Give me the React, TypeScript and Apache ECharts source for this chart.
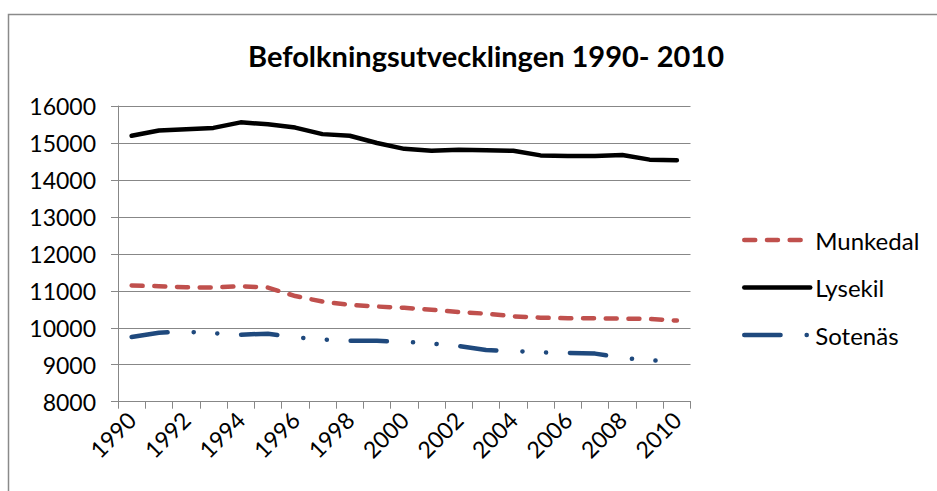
import React, { useEffect, useRef } from "react";
import * as echarts from "echarts";

const years = ["1990","1991","1992","1993","1994","1995","1996","1997","1998","1999","2000","2001","2002","2003","2004","2005","2006","2007","2008","2009","2010"];
const munkedal = [11142,11124,11097,11088,11124,11088,10858,10708,10619,10575,10540,10487,10425,10381,10310,10274,10257,10257,10248,10239,10195];
const lysekil = [15195,15336,15372,15407,15558,15504,15416,15239,15195,15000,14841,14788,14814,14805,14788,14664,14646,14646,14673,14549,14531];
const sotenas = [9752,9867,9894,9850,9814,9841,9743,9681,9646,9646,9620,9575,9504,9398,9372,9336,9318,9301,9186,9119,9090];

const FONT = "Lato";

export default function App() {
  const ref = useRef<HTMLDivElement>(null);
  useEffect(() => {
    if (!ref.current) return;
    const chart = echarts.init(ref.current, undefined, { renderer: "svg" });
    const gridColor = "#878787";
    chart.setOption({
      animation: false,
      backgroundColor: "#ffffff",
      title: {
        text: "Befolkningsutvecklingen 1990- 2010",
        left: 481,
        textAlign: "center",
        top: 36,
        textStyle: { fontFamily: FONT, fontWeight: "bold", fontSize: 29, color: "#000" },
      },
      graphic: [
        {
          type: "rect",
          shape: { x: 8.5, y: 14.5, width: 1000, height: 600 },
          style: { fill: "none", stroke: "#8a8a8a", lineWidth: 1.5 },
          silent: true,
        },
      ],
      legend: {
        orient: "vertical",
        left: 737,
        top: 223,
        itemWidth: 66,
        itemHeight: 14,
        itemGap: 23.5,
        textStyle: { fontFamily: FONT, fontSize: 24, color: "#000", lineHeight: 24, padding: 0 },
        lineStyle: { width: 4.5 },
        itemStyle: { color: "transparent", borderWidth: 0, opacity: 0 },
        data: ["Munkedal", "Lysekil", "Sotenäs"],
      },
      grid: { left: 118, right: 246.5, top: 106, bottom: 89.3, containLabel: false },
      xAxis: {
        type: "category",
        data: years,
        boundaryGap: true,
        axisLine: { lineStyle: { color: gridColor, width: 1 } },
        axisTick: { show: true, length: 7, lineStyle: { color: gridColor }, alignWithLabel: false, interval: 0 },
        axisLabel: { interval: 1, rotate: 45, margin: 14, fontFamily: FONT, fontSize: 23, color: "#000" },
        splitLine: { show: false },
      },
      yAxis: {
        type: "value",
        min: 8000,
        max: 16000,
        interval: 1000,
        axisLine: { show: true, lineStyle: { color: gridColor, width: 1 } },
        axisTick: { show: true, length: 7, lineStyle: { color: gridColor } },
        axisLabel: { margin: 22, fontFamily: FONT, fontSize: 23, color: "#000", formatter: (v: number) => String(v) },
        splitLine: { show: true, lineStyle: { color: gridColor, width: 1 } },
      },
      series: [
        {
          name: "Munkedal",
          type: "line",
          data: munkedal,
          symbol: "none",
          lineStyle: { color: "#C0504D", width: 4.5, type: [11, 11.7], cap: "round", join: "round" },
          itemStyle: { color: "#C0504D" },
        },
        {
          name: "Lysekil",
          type: "line",
          data: lysekil,
          symbol: "none",
          lineStyle: { color: "#000000", width: 4.5, type: "solid", cap: "round", join: "round" },
          itemStyle: { color: "#000000" },
        },
        {
          name: "Sotenäs",
          type: "line",
          data: sotenas,
          symbol: "none",
          lineStyle: { color: "#1F497D", width: 4.5, type: [36.3, 26.1, 0.1, 23.5, 0.1, 23.8], cap: "round", join: "round" },
          itemStyle: { color: "#1F497D" },
        },
      ],
    });
    return () => chart.dispose();
  }, []);
  return <div ref={ref} style={{ position: "absolute", left: 0, top: 0, width: 937, height: 491 }} />;
}
